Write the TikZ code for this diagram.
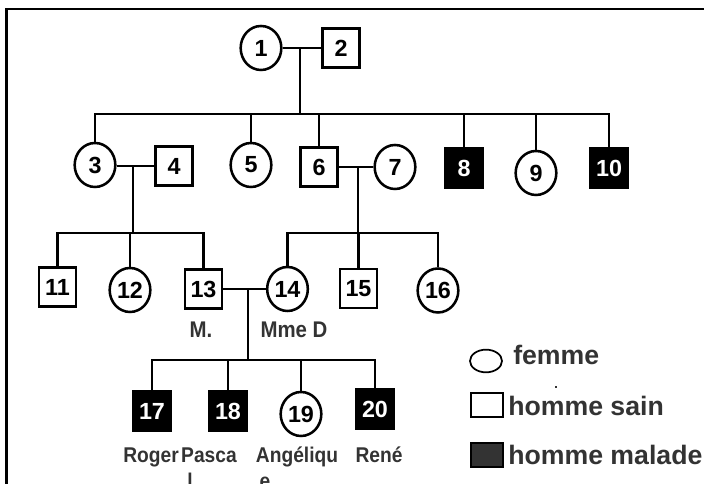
\documentclass[tikz,border=0pt]{standalone}
\usepackage{fontspec}
\setmainfont{Liberation Sans}
\newfontfamily\NarrowSans[FakeStretch=0.9]{Liberation Sans}
\usepackage{tikz}
\usetikzlibrary{shapes.geometric}

\definecolor{TextGray}{HTML}{333333}

\begin{document}
\begin{tikzpicture}[
	x = 0.75pt, y = -0.75pt,
	line width = 1.9pt,
	Female/.style={draw, ellipse, minimum width=30.5pt, minimum height=33pt, 
		inner sep=0pt, font=\bfseries\fontsize{17.5}{17.5}\selectfont},
	Male/.style={draw, rectangle, minimum width=28pt, minimum height=29pt, 
		inner sep=0pt, font=\bfseries\fontsize{17.5}{17.5}\selectfont},
	Sick/.style={Male, fill=black, text=white},
	Label/.style={text=TextGray, inner sep=0pt, anchor=base, 
		font=\NarrowSans\bfseries\fontsize{16}{16}\selectfont},
	Legend/.style={text=TextGray, inner sep=0pt, anchor=west, 
		font=\bfseries\fontsize{20}{20}\selectfont},
	]
	\useasboundingbox (0,0) rectangle (704,484);
	\clip (0,0) rectangle (704,484);
	
	% frame
	\draw (6.5,520) -- (6.5,9) -- (740,9);
	
	\node [Female] (1) at (261,48) {1};
	\node [Male] (2) at (341,48) {2};
	
	\node [Female] (3) at (95,165) {3};
	\node [Male] (4) at (174,166) {4};
	\node [Female] (5) at (251,165) {5};
	\node [Male] (6) at (319,167) {6};
	\node [Female] (7) at (395,167) {7};
	\node [Sick] (8) at (464,168) {8};
	\node [Female] (9) at (536,173) {9};
	\node [Sick] (10) at (609,168) {10};
	
	\node [Male] (11) at (57.5,287) {11};
	\node [Female] (12) at (130,290) {12};
	\node [Male] (13) at (203.5,289) {13};
	\node [Female] (14) at (287.5,289) {14};
	\node [Male] (15) at (358.5,288.5) {15};
	\node [Female] (16) at (438,290.5) {16};
	
	\node [Sick] (17) at (152,411) {17};
	\node [Sick] (18) at (228,411) {18};
	\node [Female] (19) at (301,414) {19};
	\node [Sick] (20) at (375,409) {20};
	
	% couples and children
	\coordinate (c12) at (300,48);
	\coordinate (s12) at (300,114);
	\draw (1) -- (2);
	\draw (c12) -- (s12);
	\draw (3.north) -- (3.north |- s12) -- (10.north |- s12) -- (10.north);
	\foreach \n in {5,6,8,9}
		\draw (\n.north |- s12) -- (\n.north);
	
	\coordinate (c34) at (133,166);
	\coordinate (s34) at (133,233);
	\draw (3.east |- c34) -- (4.west |- c34);
	\draw (c34) -- (s34);
	\draw (11.north) -- (11.north |- s34) -- (13.north |- s34) -- (13.north);
	\draw (12.north |- s34) -- (12.north);
	
	\coordinate (c67) at (358,167);
	\coordinate (s67) at (358,233);
	\draw (6) -- (7);
	\draw (c67) -- (s67);
	\draw (14.north) -- (14.north |- s67) -- (16.north |- s67) -- (16.north);
	\draw (15.north |- s67) -- (15.north);
	
	\coordinate (c1314) at (248,289);
	\coordinate (s1314) at (248,360);
	\draw (13) -- (14);
	\draw (c1314) -- (s1314);
	\draw (17.north) -- (17.north |- s1314) -- (20.north |- s1314) -- (20.north);
	\foreach \n in {18,19}
		\draw (\n.north |- s1314) -- (\n.north);
	
	\node [Label, font=\NarrowSans\bfseries\fontsize{17}{17}\selectfont] (M) at (201,338) {M.};
	\node [Label, font=\NarrowSans\bfseries\fontsize{17}{17}\selectfont] (MmeD) at (294,338) {Mme D};
	
	\node [Label] (Roger) at (151,463) {Roger};
	\node [Label] (Pasca) at (209,463) {Pasca};
	\node [Label] (Angel) at (297,463) {Angéliqu};
	\node [Label] (Rene) at (379,463) {René};
	\node [Label] (PascaEnd) at (190,489) {l};
	\node [Label] (AngelEnd) at (265,489) {e};
	
	% legend
	\node [Female, minimum width=24pt, minimum height=17pt, line width=1.3pt] (LegF) at (486,361) {};
	\node [Legend] (LegFText) at (512,355) {femme};
	\node [fill=TextGray, inner sep=0pt, minimum size=2.2pt] (LegDot) at (556,387) {};
	\node [Male, minimum width=24pt, minimum height=18pt, line width=1.3pt] (LegM) at (487,405) {};
	\node [Legend] (LegMText) at (507,406) {homme sain};
	\node [Male, fill=TextGray, minimum width=24pt, minimum height=18pt, line width=1.3pt] (LegS) at (487,455) {};
	\node [Legend] (LegSText) at (507,455) {homme malade};
	
\end{tikzpicture}
\end{document}
